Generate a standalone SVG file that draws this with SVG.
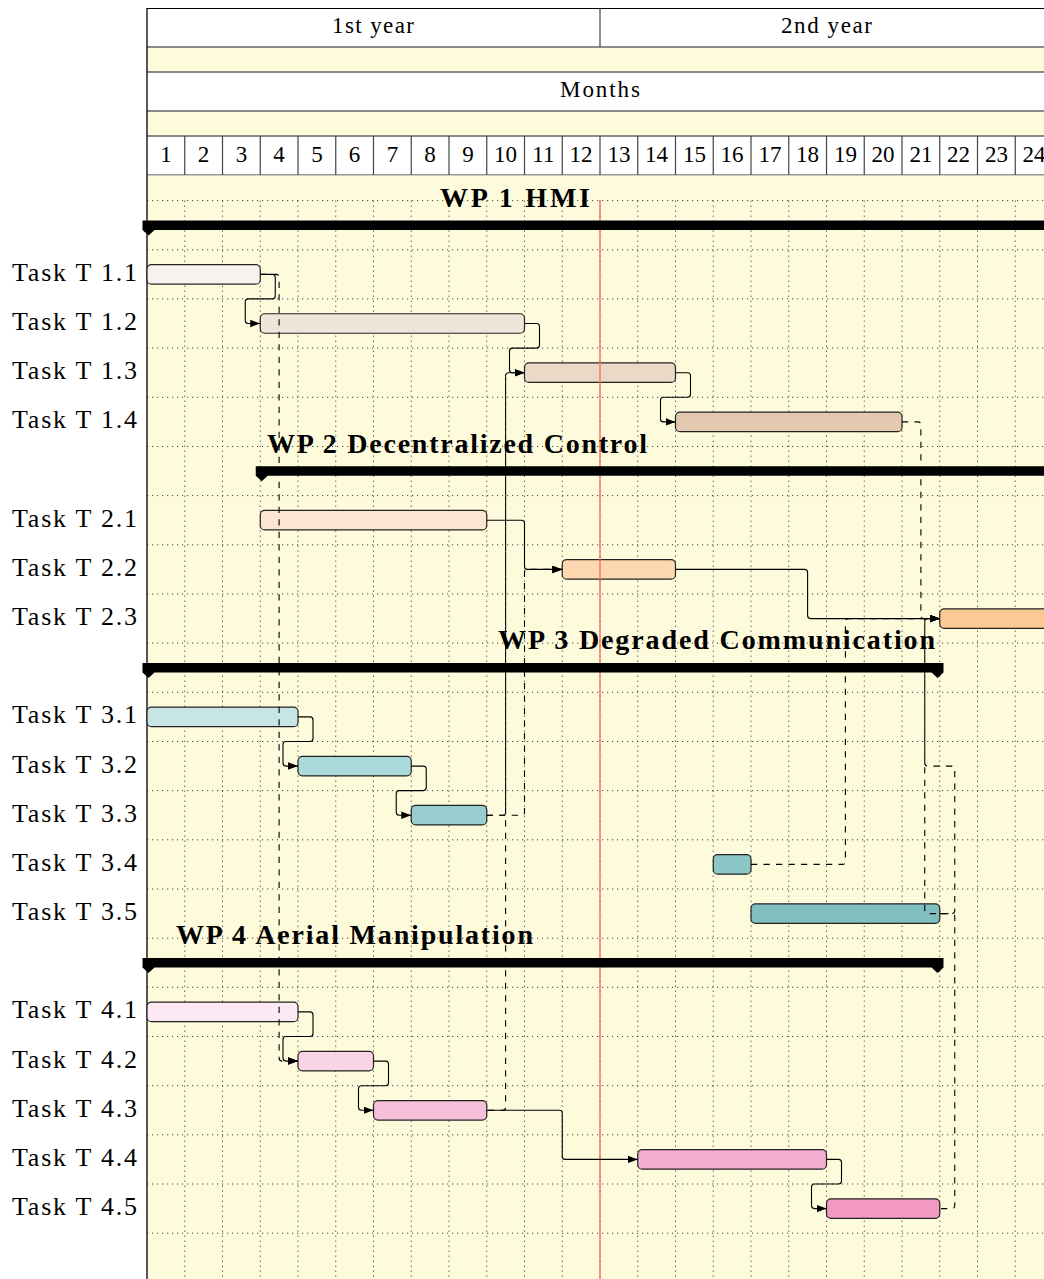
<svg xmlns="http://www.w3.org/2000/svg" width="1044" height="1279" viewBox="0 0 1044 1279">
<style>
.hdr{font-family:"Liberation Serif","Times New Roman",serif;font-size:23px;fill:#000}
.mon{font-family:"Liberation Serif","Times New Roman",serif;font-size:23px;fill:#000;text-anchor:middle}
.lbl{font-family:"Liberation Serif","Times New Roman",serif;font-size:26px;fill:#000;text-anchor:end}
.wpt{font-family:"Liberation Serif","Times New Roman",serif;font-size:28px;font-weight:bold;fill:#000}
.bar{stroke:#222;stroke-width:1.2}
.wp{fill:#000}
.grid{fill:none;stroke:#444;stroke-width:1;stroke-dasharray:1.2 3.8}
.ln{fill:none;stroke:#000;stroke-width:1.1}
.ds{fill:none;stroke:#000;stroke-width:1.1;stroke-dasharray:6.25 6.25}
</style>
<defs>
<marker id="arr" markerWidth="11" markerHeight="8" refX="10" refY="3.75" orient="auto" markerUnits="userSpaceOnUse"><path d="M0,0 L10,3.75 L0,7.5 z" fill="#000"/></marker>
</defs>
<rect x="0" y="0" width="1044" height="1279" fill="#fff"/>
<g id="header">
<rect x="147" y="47" width="906" height="25" fill="#fefadc"/>
<rect x="147" y="111" width="906" height="25" fill="#fefadc"/>
<rect x="147" y="8" width="906" height="39" fill="#fff"/>
<rect x="147" y="72" width="906" height="39" fill="#fff"/>
<rect x="147" y="136" width="906" height="39" fill="#fff"/>
<path d="M147,8.5 H1053" stroke="#000" stroke-width="1.2"/>
<path d="M147,47 H1053 M147,72 H1053 M147,111 H1053 M147,136 H1053" stroke="#666" stroke-width="1.3"/>
<path d="M147,175 H1053" stroke="#333" stroke-width="1.2"/>
<path d="M600,8 V47 M184.75,136 V175 M222.5,136 V175 M260.25,136 V175 M298,136 V175 M335.75,136 V175 M373.5,136 V175 M411.25,136 V175 M449,136 V175 M486.75,136 V175 M524.5,136 V175 M562.25,136 V175 M600,136 V175 M637.75,136 V175 M675.5,136 V175 M713.25,136 V175 M751,136 V175 M788.75,136 V175 M826.5,136 V175 M864.25,136 V175 M902,136 V175 M939.75,136 V175 M977.5,136 V175 M1015.25,136 V175" stroke="#444" stroke-width="1.2"/>
<text class="hdr" x="332" y="33" textLength="82">1st year</text>
<text class="hdr" x="781" y="33" textLength="91">2nd year</text>
<text class="hdr" x="560" y="97" textLength="80">Months</text>
<text class="mon" x="165.9" y="162">1</text>
<text class="mon" x="203.6" y="162">2</text>
<text class="mon" x="241.4" y="162">3</text>
<text class="mon" x="279.1" y="162">4</text>
<text class="mon" x="316.9" y="162">5</text>
<text class="mon" x="354.6" y="162">6</text>
<text class="mon" x="392.4" y="162">7</text>
<text class="mon" x="430.1" y="162">8</text>
<text class="mon" x="467.9" y="162">9</text>
<text class="mon" x="505.6" y="162">10</text>
<text class="mon" x="543.4" y="162">11</text>
<text class="mon" x="581.1" y="162">12</text>
<text class="mon" x="618.9" y="162">13</text>
<text class="mon" x="656.6" y="162">14</text>
<text class="mon" x="694.4" y="162">15</text>
<text class="mon" x="732.1" y="162">16</text>
<text class="mon" x="769.9" y="162">17</text>
<text class="mon" x="807.6" y="162">18</text>
<text class="mon" x="845.4" y="162">19</text>
<text class="mon" x="883.1" y="162">20</text>
<text class="mon" x="920.9" y="162">21</text>
<text class="mon" x="958.6" y="162">22</text>
<text class="mon" x="996.4" y="162">23</text>
<text class="mon" x="1034.1" y="162">24</text>
</g>
<g id="body">
<rect x="147" y="175.5" width="906" height="1104" fill="#fefadc"/>
<path class="grid" d="M147,200.6 H1053 M147,249.8 H1053 M147,298.9 H1053 M147,348.1 H1053 M147,397.3 H1053 M147,446.5 H1053 M147,495.6 H1053 M147,544.8 H1053 M147,594 H1053 M147,643.1 H1053 M147,692.3 H1053 M147,741.5 H1053 M147,790.6 H1053 M147,839.8 H1053 M147,889 H1053 M147,938.2 H1053 M147,987.3 H1053 M147,1036.5 H1053 M147,1085.7 H1053 M147,1134.8 H1053 M147,1184 H1053 M147,1233.2 H1053"/>
<path class="grid" d="M184.75,200.6 V1279 M222.5,200.6 V1279 M260.25,200.6 V1279 M298,200.6 V1279 M335.75,200.6 V1279 M373.5,200.6 V1279 M411.25,200.6 V1279 M449,200.6 V1279 M486.75,200.6 V1279 M524.5,200.6 V1279 M562.25,200.6 V1279 M600,200.6 V1279 M637.75,200.6 V1279 M675.5,200.6 V1279 M713.25,200.6 V1279 M751,200.6 V1279 M788.75,200.6 V1279 M826.5,200.6 V1279 M864.25,200.6 V1279 M902,200.6 V1279 M939.75,200.6 V1279 M977.5,200.6 V1279 M1015.25,200.6 V1279"/>
<path d="M147,8 V1279" stroke="#000" stroke-width="1.3"/>
</g>
<g id="T1.1"><text class="lbl" x="137" y="281" textLength="125">Task T 1.1</text><rect class="bar" x="147" y="264.65" width="113.25" height="19.5" rx="4.5" fill="#f8f2ee"/></g>
<g id="T1.2"><text class="lbl" x="137" y="330" textLength="125">Task T 1.2</text><rect class="bar" x="260.25" y="313.75" width="264.25" height="19.5" rx="4.5" fill="#f0e5da"/></g>
<g id="T1.3"><text class="lbl" x="137" y="379.2" textLength="125">Task T 1.3</text><rect class="bar" x="524.5" y="362.95" width="151" height="19.5" rx="4.5" fill="#ead9c6"/></g>
<g id="T1.4"><text class="lbl" x="137" y="428.4" textLength="125">Task T 1.4</text><rect class="bar" x="675.5" y="412.15" width="226.5" height="19.5" rx="4.5" fill="#e2c9b0"/></g>
<g id="T2.1"><text class="lbl" x="137" y="526.7" textLength="125">Task T 2.1</text><rect class="bar" x="260.25" y="510.45" width="226.5" height="19.5" rx="4.5" fill="#fde6d1"/></g>
<g id="T2.2"><text class="lbl" x="137" y="575.9" textLength="125">Task T 2.2</text><rect class="bar" x="562.25" y="559.65" width="113.25" height="19.5" rx="4.5" fill="#fdd7b0"/></g>
<g id="T2.3"><text class="lbl" x="137" y="625.1" textLength="125">Task T 2.3</text><rect class="bar" x="939.75" y="608.85" width="113.25" height="19.5" rx="4.5" fill="#fcc893"/></g>
<g id="T3.1"><text class="lbl" x="137" y="723.4" textLength="125">Task T 3.1</text><rect class="bar" x="147" y="707.15" width="151" height="19.5" rx="4.5" fill="#c8e5e5"/></g>
<g id="T3.2"><text class="lbl" x="137" y="772.6" textLength="125">Task T 3.2</text><rect class="bar" x="298" y="756.35" width="113.25" height="19.5" rx="4.5" fill="#acd9da"/></g>
<g id="T3.3"><text class="lbl" x="137" y="821.7" textLength="125">Task T 3.3</text><rect class="bar" x="411.25" y="805.45" width="75.5" height="19.5" rx="4.5" fill="#9acdd0"/></g>
<g id="T3.4"><text class="lbl" x="137" y="870.9" textLength="125">Task T 3.4</text><rect class="bar" x="713.25" y="854.65" width="37.75" height="19.5" rx="4.5" fill="#8cc7c8"/></g>
<g id="T3.5"><text class="lbl" x="137" y="920.1" textLength="125">Task T 3.5</text><rect class="bar" x="751" y="903.85" width="188.75" height="19.5" rx="4.5" fill="#80bfc0"/></g>
<g id="T4.1"><text class="lbl" x="137" y="1018.4" textLength="125">Task T 4.1</text><rect class="bar" x="147" y="1002.15" width="151" height="19.5" rx="4.5" fill="#fde9f4"/></g>
<g id="T4.2"><text class="lbl" x="137" y="1067.6" textLength="125">Task T 4.2</text><rect class="bar" x="298" y="1051.35" width="75.5" height="19.5" rx="4.5" fill="#f9d3e6"/></g>
<g id="T4.3"><text class="lbl" x="137" y="1116.8" textLength="125">Task T 4.3</text><rect class="bar" x="373.5" y="1100.55" width="113.25" height="19.5" rx="4.5" fill="#f6bed9"/></g>
<g id="T4.4"><text class="lbl" x="137" y="1165.9" textLength="125">Task T 4.4</text><rect class="bar" x="637.75" y="1149.65" width="188.75" height="19.5" rx="4.5" fill="#f3adcf"/></g>
<g id="T4.5"><text class="lbl" x="137" y="1215.1" textLength="125">Task T 4.5</text><rect class="bar" x="826.5" y="1198.85" width="113.25" height="19.5" rx="4.5" fill="#f199c3"/></g>
<g id="today"><path d="M600,200 V1279" stroke="#f76f62" stroke-width="1.4"/></g>
<g id="WP1"><polygon class="wp" points="142.5,220.45 1060,220.45 1060,229.95 154.5,229.95 148.5,235.45 142.5,229.95"/><text class="wpt" x="440" y="206.7" textLength="150">WP 1 HMI</text></g>
<g id="WP2"><polygon class="wp" points="255.75,466.25 1060,466.25 1060,475.75 267.75,475.75 261.75,481.25 255.75,475.75"/><text class="wpt" x="267" y="452.5" textLength="380">WP 2 Decentralized Control</text></g>
<g id="WP3"><polygon class="wp" points="142.5,662.95 943.5,662.95 943.5,672.45 937.5,677.95 931.5,672.45 154.5,672.45 148.5,677.95 142.5,672.45"/><text class="wpt" x="498" y="649.2" textLength="437">WP 3 Degraded Communication</text></g>
<g id="WP4"><polygon class="wp" points="142.5,958.05 943.5,958.05 943.5,967.55 937.5,973.05 931.5,967.55 154.5,967.55 148.5,973.05 142.5,967.55"/><text class="wpt" x="176" y="944.3" textLength="357">WP 4 Aerial Manipulation</text></g>
<g id="connectors">
<path class="ln" marker-end="url(#arr)" d="M260.25,274.4 H272.25 Q275.25,274.4 275.25,277.4 V295.9 Q275.25,298.9 272.25,298.9 H248.25 Q245.25,298.9 245.25,301.9 V320.5 Q245.25,323.5 248.25,323.5 H260.25"/>
<path class="ln" marker-end="url(#arr)" d="M524.5,323.5 H536.5 Q539.5,323.5 539.5,326.5 V345.1 Q539.5,348.1 536.5,348.1 H512.5 Q509.5,348.1 509.5,351.1 V369.7 Q509.5,372.7 512.5,372.7 H524.5"/>
<path class="ln" marker-end="url(#arr)" d="M675.5,372.7 H687.5 Q690.5,372.7 690.5,375.7 V394.3 Q690.5,397.3 687.5,397.3 H663.5 Q660.5,397.3 660.5,400.3 V418.9 Q660.5,421.9 663.5,421.9 H675.5"/>
<path class="ds" marker-end="url(#arr)" d="M260.25,274.4 H276.1 Q279.1,274.4 279.1,277.4 V1058.1 Q279.1,1061.1 282.1,1061.1 H298"/>
<path class="ds" marker-end="url(#arr)" d="M902,421.9 H917.9 Q920.9,421.9 920.9,424.9 V615.6 Q920.9,618.6 923.9,618.6 H939.75"/>
<path class="ln" marker-end="url(#arr)" d="M486.75,520.2 H521.5 Q524.5,520.2 524.5,523.2 V566.4 Q524.5,569.4 527.5,569.4 H562.25"/>
<path class="ln" marker-end="url(#arr)" d="M675.5,569.4 H804.6 Q807.6,569.4 807.6,572.4 V615.6 Q807.6,618.6 810.6,618.6 H939.75"/>
<path class="ln" marker-end="url(#arr)" d="M298,716.9 H310 Q313,716.9 313,719.9 V738.5 Q313,741.5 310,741.5 H286 Q283,741.5 283,744.5 V763.1 Q283,766.1 286,766.1 H298"/>
<path class="ln" marker-end="url(#arr)" d="M411.25,766.1 H423.25 Q426.25,766.1 426.25,769.1 V787.6 Q426.25,790.6 423.25,790.6 H399.25 Q396.25,790.6 396.25,793.6 V812.2 Q396.25,815.2 399.25,815.2 H411.25"/>
<path class="ds" marker-end="url(#arr)" d="M486.75,815.2 H502.6 Q505.6,815.2 505.6,812.2 V375.7 Q505.6,372.7 508.6,372.7 H524.5"/>
<path class="ds" marker-end="url(#arr)" d="M486.75,815.2 H521.5 Q524.5,815.2 524.5,812.2 V572.4 Q524.5,569.4 527.5,569.4 H562.25"/>
<path class="ds" marker-end="url(#arr)" d="M751,864.4 H842.4 Q845.4,864.4 845.4,861.4 V621.6 Q845.4,618.6 848.4,618.6 H939.75"/>
<path class="ds" marker-end="url(#arr)" d="M939.75,913.6 H951.75 Q954.75,913.6 954.75,910.6 V769.1 Q954.75,766.1 951.75,766.1 H927.75 Q924.75,766.1 924.75,763.1 V621.6 Q924.75,618.6 927.75,618.6 H939.75"/>
<path class="ds" marker-end="url(#arr)" stroke-dashoffset="11.25" d="M939.75,1208.6 H951.75 Q954.75,1208.6 954.75,1205.6 V916.6 Q954.75,913.6 951.75,913.6 H927.75 Q924.75,913.6 924.75,910.6 V621.6 Q924.75,618.6 927.75,618.6 H939.75"/>
<path class="ln" marker-end="url(#arr)" d="M298,1011.9 H310 Q313,1011.9 313,1014.9 V1033.5 Q313,1036.5 310,1036.5 H286 Q283,1036.5 283,1039.5 V1058.1 Q283,1061.1 286,1061.1 H298"/>
<path class="ln" marker-end="url(#arr)" d="M373.5,1061.1 H385.5 Q388.5,1061.1 388.5,1064.1 V1082.7 Q388.5,1085.7 385.5,1085.7 H361.5 Q358.5,1085.7 358.5,1088.7 V1107.3 Q358.5,1110.3 361.5,1110.3 H373.5"/>
<path class="ds" marker-end="url(#arr)" stroke-dashoffset="11.15" d="M486.75,1110.3 H502.6 Q505.6,1110.3 505.6,1107.3 V375.7 Q505.6,372.7 508.6,372.7 H524.5"/>
<path class="ln" marker-end="url(#arr)" d="M486.75,1110.3 H559.25 Q562.25,1110.3 562.25,1113.3 V1156.4 Q562.25,1159.4 565.25,1159.4 H637.75"/>
<path class="ln" marker-end="url(#arr)" d="M826.5,1159.4 H838.5 Q841.5,1159.4 841.5,1162.4 V1181 Q841.5,1184 838.5,1184 H814.5 Q811.5,1184 811.5,1187 V1205.6 Q811.5,1208.6 814.5,1208.6 H826.5"/>
</g>
</svg>
